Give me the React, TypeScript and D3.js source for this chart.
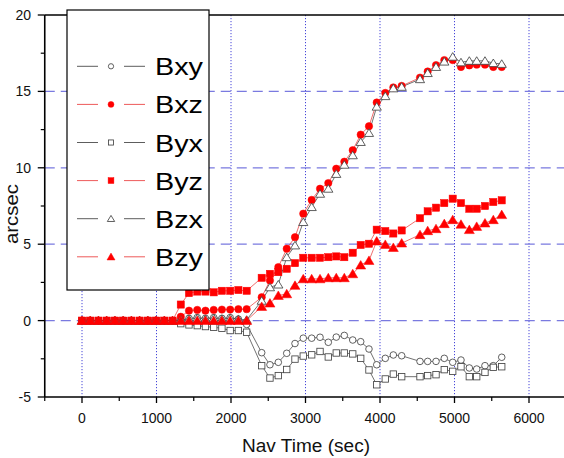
import React from "react";
import * as d3 from "d3";

// Nav time (sec) of each sample
const times = [
  0, 110, 221, 331, 442, 552, 663, 773, 884, 994, 1105, 1215, 1326, 1436, 1547, 1657, 1768, 1878, 1989, 2099, 2210,
  2412, 2523, 2635, 2748, 2859, 2970, 3083, 3195, 3306, 3413, 3521, 3634, 3741, 3852, 3956, 4071, 4179, 4291,
  4537, 4640, 4752, 4863, 4976, 5087, 5199, 5298, 5409, 5521, 5634,
];

const bxy = [
  0, 0, 0, 0, 0, 0, 0, 0, 0, 0, 0, 0, 0.05, 0.15, 0.2, 0.15, 0.2, 0.15, 0.2, 0.1, -0.25,
  -2.1, -2.89, -2.73, -2.14, -1.5, -1.15, -1.15, -1.09, -1.42, -1.08, -0.97, -1.27, -1.38, -1.86, -2.89, -2.47, -2.25, -2.3,
  -2.67, -2.67, -2.67, -2.47, -2.73, -2.58, -3.1, -3.17, -2.95, -2.95, -2.4,
];
const bxz = [
  0, 0, 0, 0, 0, 0, 0, 0, 0, 0, 0, 0, 0.25, 0.65, 0.7, 0.65, 0.7, 0.72, 0.72, 0.75, 0.75,
  1.53, 2.62, 3.5, 4.7, 5.46, 7.0, 7.9, 8.63, 9.0, 9.94, 10.4, 11.15, 12.17, 12.72, 14.27, 14.9, 15.26, 15.36,
  15.9, 16.3, 16.72, 17.05, 17.05, 16.6, 16.7, 16.75, 16.75, 16.6, 16.6,
];
const byx = [
  0, 0, 0, 0, 0, 0, 0, 0, 0, 0, 0, 0, -0.2, -0.28, -0.33, -0.39, -0.44, -0.5, -0.65, -0.65, -0.76,
  -2.95, -3.76, -3.6, -3.2, -2.52, -2.32, -2.24, -2.02, -2.38, -2.12, -2.12, -2.18, -2.47, -3.23, -4.2, -3.82, -3.5, -3.67,
  -3.67, -3.6, -3.54, -3.21, -3.32, -3.02, -3.67, -3.67, -3.39, -3.06, -3.02,
];
const byz = [
  0, 0, 0, 0, 0, 0, 0, 0, 0, 0, 0, 0, 1.05, 1.8, 1.9, 1.9, 1.85, 1.95, 1.95, 2.0, 1.95,
  2.8, 3.06, 3.17, 3.39, 3.76, 4.11, 4.11, 4.11, 4.15, 4.2, 4.15, 4.44, 4.95, 5.03, 5.95, 5.86, 5.7, 5.9,
  6.7, 7.15, 7.39, 7.69, 7.98, 7.69, 7.32, 7.32, 7.5, 7.76, 7.87,
];
const bzx = [
  0, 0, 0, 0, 0, 0, 0, 0, 0, 0, 0, 0, 0.05, 0.1, 0.15, 0.1, 0.15, 0.1, 0.15, 0.1, 0.05,
  1.3, 2.18, 2.36, 4.15, 4.92, 6.45, 7.43, 8.3, 8.63, 9.6, 10.2, 10.82, 11.69, 12.28, 14.0, 14.69, 15.2, 15.3,
  15.8, 16.2, 16.6, 16.95, 17.27, 16.9, 17.0, 17.0, 17.0, 16.85, 16.8,
];
const bzy = [
  0, 0, 0, 0, 0, 0, 0, 0, 0, 0, 0, 0, 0, 0, 0, 0, 0, 0, 0, 0, 0,
  0.92, 1.14, 1.64, 1.75, 2.3, 2.73, 2.73, 2.73, 2.8, 2.8, 2.8, 3.06, 3.63, 3.93, 5.2, 4.98, 4.78, 5.07,
  5.62, 5.88, 6.01, 6.34, 6.6, 6.3, 5.95, 6.16, 6.38, 6.6, 6.93,
];

const seriesNames = ["Bxy", "Bxz", "Byx", "Byz", "Bzx", "Bzy"];
const seriesValues = [bxy, bxz, byx, byz, bzx, bzy];
const seriesShapes = ["circle", "circle", "square", "square", "triangle", "triangle"];
const seriesFilled = [false, true, false, true, false, true];

const xMajorTicks = [0, 1000, 2000, 3000, 4000, 5000, 6000];
const xMinorTicks = [-500, 500, 1500, 2500, 3500, 4500, 5500, 6500];
const yMajorTicks = [-5, 0, 5, 10, 15, 20];
const yMinorTicks = [-2.5, 2.5, 7.5, 12.5, 17.5];
const yGridLines = [0, 5, 10, 15];

const W = 564;
const H = 458;
const FONT = "Arial, 'Liberation Sans', Helvetica, sans-serif";
const RED = "#f00";
const GREY = "#444";

function Marker({ shape, filled, x, y, s }: { shape: string; filled: boolean; x: number; y: number; s: number }) {
  const fill = filled ? RED : "#fff";
  const stroke = filled ? RED : GREY;
  const sw = filled ? 0.5 : 0.85;
  if (shape === "circle") {
    const r = filled ? 3.7 * s : 3.3 * s;
    return <circle cx={x} cy={y} r={r} fill={fill} stroke={stroke} strokeWidth={sw} />;
  }
  if (shape === "square") {
    const h = (filled ? 3.6 : 3.2) * s;
    return <rect x={x - h} y={y - h} width={2 * h} height={2 * h} fill={fill} stroke={stroke} strokeWidth={sw} />;
  }
  const a = (filled ? 5.0 : 4.6) * s;
  const b = (filled ? 4.6 : 4.1) * s;
  return (
    <path
      d={`M${x},${y - b} L${x + a},${y + b * 0.85} L${x - a},${y + b * 0.85} Z`}
      fill={fill}
      stroke={stroke}
      strokeWidth={sw}
    />
  );
}

export default function App() {
  const x = d3.scaleLinear().domain([-500, 6500]).range([44.75, 566.25]);
  const y = d3.scaleLinear().domain([-5, 20]).range([397, 15]);
  const line = d3
    .line<number>()
    .x((_, i) => x(times[i]))
    .y((v) => y(v));

  const x0 = x(-500);
  const y0 = y(-5);
  const yTop = y(20);

  return (
    <svg
      width={W}
      height={H}
      style={{ position: "absolute", left: 0, top: 0, background: "#fff" }}
      fontFamily={FONT}
    >
      <rect x={0} y={0} width={W} height={H} fill="#fff" />
      {/* vertical dotted grid */}
      {xMajorTicks.map((t) => (
        <line
          key={"vg" + t}
          x1={x(t)}
          x2={x(t)}
          y1={yTop}
          y2={y0}
          stroke="#4646d8"
          strokeWidth={1}
          strokeDasharray="1.2,1.8"
        />
      ))}
      {/* horizontal dashed grid */}
      {yGridLines.map((t) => (
        <line
          key={"hg" + t}
          x1={x0}
          x2={W}
          y1={y(t)}
          y2={y(t)}
          stroke="#7a7ae0"
          strokeWidth={1.2}
          strokeDasharray="10,6"
        />
      ))}

      {/* series lines */}
      {seriesValues.map((vals, k) => (
        <path
          key={"l" + k}
          d={line(vals) || ""}
          fill="none"
          stroke={seriesFilled[k] ? "#e83030" : "#333"}
          strokeWidth={0.7}
        />
      ))}
      {/* series markers */}
      {seriesValues.map((vals, k) => (
        <g key={"m" + k}>
          {vals.map((v, i) => (
            <Marker key={i} shape={seriesShapes[k]} filled={seriesFilled[k]} x={x(times[i])} y={y(v)} s={1} />
          ))}
        </g>
      ))}

      {/* axes */}
      <line x1={x0} x2={x0} y1={yTop} y2={y0} stroke="#000" strokeWidth={1.6} />
      <line x1={x0} x2={W} y1={y0} y2={y0} stroke="#000" strokeWidth={1.6} />
      <line x1={x0} x2={W} y1={yTop} y2={yTop} stroke="#000" strokeWidth={1.6} />
      {yMajorTicks.map((t) => (
        <g key={"yt" + t}>
          <line x1={x0 - 7} x2={x0} y1={y(t)} y2={y(t)} stroke="#000" strokeWidth={1.3} />
          <text x={31} y={y(t)} dy="0.36em" textAnchor="end" fontSize={14} fill="#111">
            {t}
          </text>
        </g>
      ))}
      {yMinorTicks.map((t) => (
        <line key={"ym" + t} x1={x0 - 4} x2={x0} y1={y(t)} y2={y(t)} stroke="#000" strokeWidth={1.2} />
      ))}
      {xMajorTicks.map((t) => (
        <g key={"xt" + t}>
          <line x1={x(t)} x2={x(t)} y1={y0} y2={y0 + 6} stroke="#000" strokeWidth={1.3} />
          <text x={x(t)} y={423} textAnchor="middle" fontSize={14} fill="#111">
            {t}
          </text>
        </g>
      ))}
      {xMinorTicks.map((t) => (
        <line key={"xm" + t} x1={x(t)} x2={x(t)} y1={y0} y2={y0 + 4} stroke="#000" strokeWidth={1.2} />
      ))}

      {/* axis titles */}
      <text
        x={306}
        y={452}
        textAnchor="middle"
        fontSize={17.5}
        fill="#111"
        textLength={128}
        lengthAdjust="spacingAndGlyphs"
      >
        Nav Time (sec)
      </text>
      <text
        transform="translate(18,214) rotate(-90)"
        textAnchor="middle"
        fontSize={17.5}
        fill="#111"
        textLength={60}
        lengthAdjust="spacingAndGlyphs"
      >
        arcsec
      </text>

      {/* legend */}
      <rect x={67} y={10} width={142} height={280} fill="#fff" stroke="#000" strokeWidth={1.2} />
      {seriesNames.map((name, k) => {
        const cy = 66.3 + k * 38.1;
        const lc = seriesFilled[k] ? "#e83030" : "#333";
        return (
          <g key={"lg" + k}>
            <line x1={77} x2={98} y1={cy} y2={cy} stroke={lc} strokeWidth={0.8} />
            <line x1={124} x2={145} y1={cy} y2={cy} stroke={lc} strokeWidth={0.8} />
            <Marker shape={seriesShapes[k]} filled={seriesFilled[k]} x={111} y={cy} s={0.8} />
            <text
              x={155}
              y={cy + 9}
              fontSize={23}
              fill="#000"
              textLength={48}
              lengthAdjust="spacingAndGlyphs"
            >
              {name}
            </text>
          </g>
        );
      })}
    </svg>
  );
}
